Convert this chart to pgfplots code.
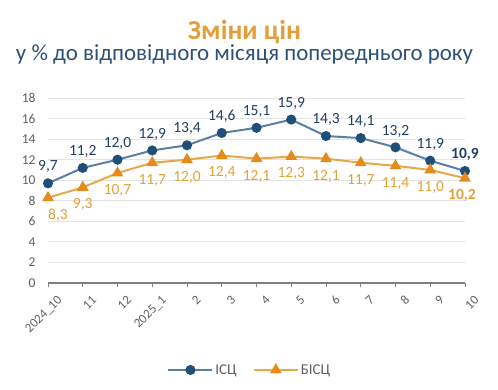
\documentclass[border=0pt]{standalone}
\usepackage{pgfplots}
\pgfplotsset{compat=1.18}
\usepackage{fontspec}
\setmainfont{Carlito}
\definecolor{blueline}{HTML}{5A7FA6}
\definecolor{bluemark}{HTML}{1F4E79}
\definecolor{orline}{HTML}{E9A846}
\definecolor{ormark}{HTML}{E48B1C}
\definecolor{orlabel}{HTML}{E0A236}
\definecolor{bluelabel}{HTML}{203F63}
\definecolor{titleor}{HTML}{E3A03A}
\definecolor{subtitle}{HTML}{2E5077}
\definecolor{tickgray}{HTML}{606060}
\definecolor{gridgray}{HTML}{E3E3E3}
\begin{document}
\begin{tikzpicture}[x=1pt,y=1pt]
\path (0,0) rectangle (498,389);
\node[anchor=base, inner sep=0pt, text=titleor] at (244.5,349) {\resizebox{113pt}{!}{\fontsize{27}{30}\selectfont\bfseries Зміни цін}};
\node[anchor=base, inner sep=0pt, text=subtitle] at (244.5,328) {\resizebox{457pt}{!}{\fontsize{21}{24}\selectfont у \% до відповідного місяця попереднього року}};
\begin{axis}[
  at={(48pt,106pt)}, anchor=south west,
  scale only axis, width=417pt, height=185pt,
  xmin=0, xmax=12, ymin=0, ymax=18,
  ytick={0,2,...,18}, xtick={0,...,12},
  xticklabels={2024\_10,11,12,2025\_1,2,3,4,5,6,7,8,9,10},
  /pgf/number format/assume math mode=true,
  axis x line*=bottom, axis y line*=left,
  y axis line style={draw=none},
  x axis line style={draw=tickgray!80, line width=1.2pt},
  ytick style={draw=none},
  xtick style={draw=tickgray!80, line width=1pt},
  tick align=outside, major tick length=4pt,
  ymajorgrids, grid style={gridgray, line width=0.8pt},
  x tick label style={rotate=45, anchor=north east, font=\fontsize{13}{13}\selectfont, text=tickgray, xshift=4pt, yshift=-8pt},
  y tick label style={font=\fontsize{13.5}{14}\selectfont, text=tickgray, xshift=-5pt},
  legend columns=2,
  legend style={at={(0.484,-0.47)}, anchor=center, draw=none, font=\fontsize{15}{16}\selectfont, text=tickgray, /tikz/every even column/.append style={column sep=14pt}},
  legend image code/.code={\draw[mark repeat=2,mark phase=2,#1] plot coordinates {(0pt,0pt)(22pt,0pt)(44pt,0pt)};},
  clip=false,
]
\addplot[color=blueline, line width=2pt, mark=*, mark size=4pt, mark options={draw=bluemark, fill=bluemark},
  point meta=explicit symbolic, nodes near coords,
  every node near coord/.append style={font=\fontsize{15.5}{16}\selectfont, text=bluelabel, anchor=south, yshift=6pt}]
coordinates {
(0,9.7)[9,7] (1,11.2)[11,2] (2,12.0)[12,0] (3,12.9)[12,9] (4,13.4)[13,4] (5,14.6)[14,6] (6,15.1)[15,1]
(7,15.9)[15,9] (8,14.3)[14,3] (9,14.1)[14,1] (10,13.2)[13,2] (11,11.9)[11,9] (12,10.9)[\textbf{10,9}]
};
\addlegendentry{ІСЦ}
\addplot[color=orline, line width=2pt, mark=triangle*, mark size=4.8pt, mark options={draw=ormark, fill=ormark},
  point meta=explicit symbolic, nodes near coords,
  every node near coord/.append style={font=\fontsize{15.5}{16}\selectfont, text=orlabel, anchor=north, yshift=-7pt}]
coordinates {
(0,8.3)[\hspace*{20pt}8,3] (1,9.3)[9,3] (2,10.7)[10,7] (3,11.7)[11,7] (4,12.0)[12,0] (5,12.4)[12,4] (6,12.1)[12,1]
(7,12.3)[12,3] (8,12.1)[12,1] (9,11.7)[11,7] (10,11.4)[11,4] (11,11.0)[11,0] (12,10.2)[\textbf{10,2}\hspace*{6pt}]
};
\addlegendentry{БІСЦ}
\end{axis}
\end{tikzpicture}
\end{document}
